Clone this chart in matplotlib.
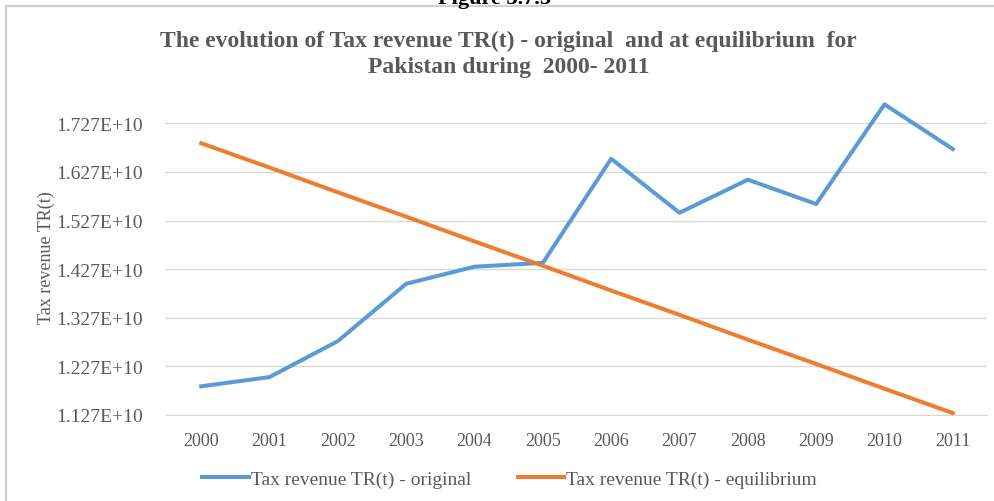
import matplotlib.pyplot as plt
from matplotlib.lines import Line2D
from matplotlib.ticker import FixedLocator, FuncFormatter

# Data
years = ["2000", "2001", "2002", "2003", "2004", "2005",
         "2006", "2007", "2008", "2009", "2010", "2011"]
tr_original = [1.186e10, 1.205e10, 1.279e10, 1.397e10, 1.432e10, 1.440e10,
               1.654e10, 1.543e10, 1.611e10, 1.561e10, 1.766e10, 1.674e10]
tr_equilibrium = [1.686e10, 1.636e10, 1.585e10, 1.535e10, 1.484e10, 1.434e10,
                  1.383e10, 1.333e10, 1.282e10, 1.232e10, 1.181e10, 1.131e10]
y_ticks = [1.127e10, 1.227e10, 1.327e10, 1.427e10, 1.527e10, 1.627e10, 1.727e10]

plt.rcParams["font.family"] = ["Liberation Serif", "DejaVu Serif"]
grey = "#595959"

fig = plt.figure(figsize=(9.95, 5.02), dpi=100)
ax = fig.add_axes([165 / 995, 1 - 416 / 502, 822 / 995, 316 / 502])

x = list(range(len(years)))
ax.plot(x, tr_original, color="#5B9BD5", lw=2.9, solid_joinstyle="round",
        label="Tax revenue TR(t) - original")
ax.plot(x, tr_equilibrium, color="#ED7D31", lw=2.9, solid_joinstyle="round",
        label="Tax revenue TR(t) - equilibrium")

ax.set_xlim(-0.53, 11.5)
ax.set_ylim(1.127e10, 1.777e10)
ax.set_xticks(x)
ax.set_xticklabels(years)
ax.yaxis.set_major_locator(FixedLocator(y_ticks))
ax.yaxis.set_major_formatter(FuncFormatter(lambda v, p: f"{v:.3E}"))
ax.tick_params(length=0, colors=grey, labelsize=13)
ax.tick_params(axis="y", labelsize=14, pad=16)
ax.tick_params(axis="x", pad=12)
ax.grid(axis="y", color="#d9d9d9", lw=1)
ax.set_axisbelow(True)
for s in ["top", "right", "left"]:
    ax.spines[s].set_visible(False)
ax.spines["bottom"].set_color("#d9d9d9")
ax.set_ylabel("Tax revenue TR(t)", color=grey, fontsize=13, labelpad=1)

fig.text(0.511, 1 - 41 / 502, "The evolution of Tax revenue TR(t) - original  and at equilibrium  for",
         ha="center", va="center", fontsize=17, fontweight="bold", color=grey)
fig.text(0.511, 1 - 67 / 502, "Pakistan during  2000- 2011",
         ha="center", va="center", fontsize=17, fontweight="bold", color=grey)

# cut-off caption above the chart frame
fig.text(0.497, 1 - 4 / 502, "Figure 3.7.5", ha="center", va="baseline",
         fontsize=16, fontweight="bold", color="black")

fig.legend(loc="center", bbox_to_anchor=(0.512, 1 - 480 / 502), ncol=2,
           frameon=False, fontsize=14, labelcolor=grey, handlelength=2.4,
           handletextpad=0.1, columnspacing=2.4)

# chart frame (top and left edges visible)
fig.add_artist(Line2D([6 / 995, 1], [1 - 7 / 502, 1 - 7 / 502], color="#d0d0d0", lw=1.5))
fig.add_artist(Line2D([6 / 995, 6 / 995], [0, 1 - 7 / 502], color="#d0d0d0", lw=1.5))

fig.savefig("out.png", dpi=100)
